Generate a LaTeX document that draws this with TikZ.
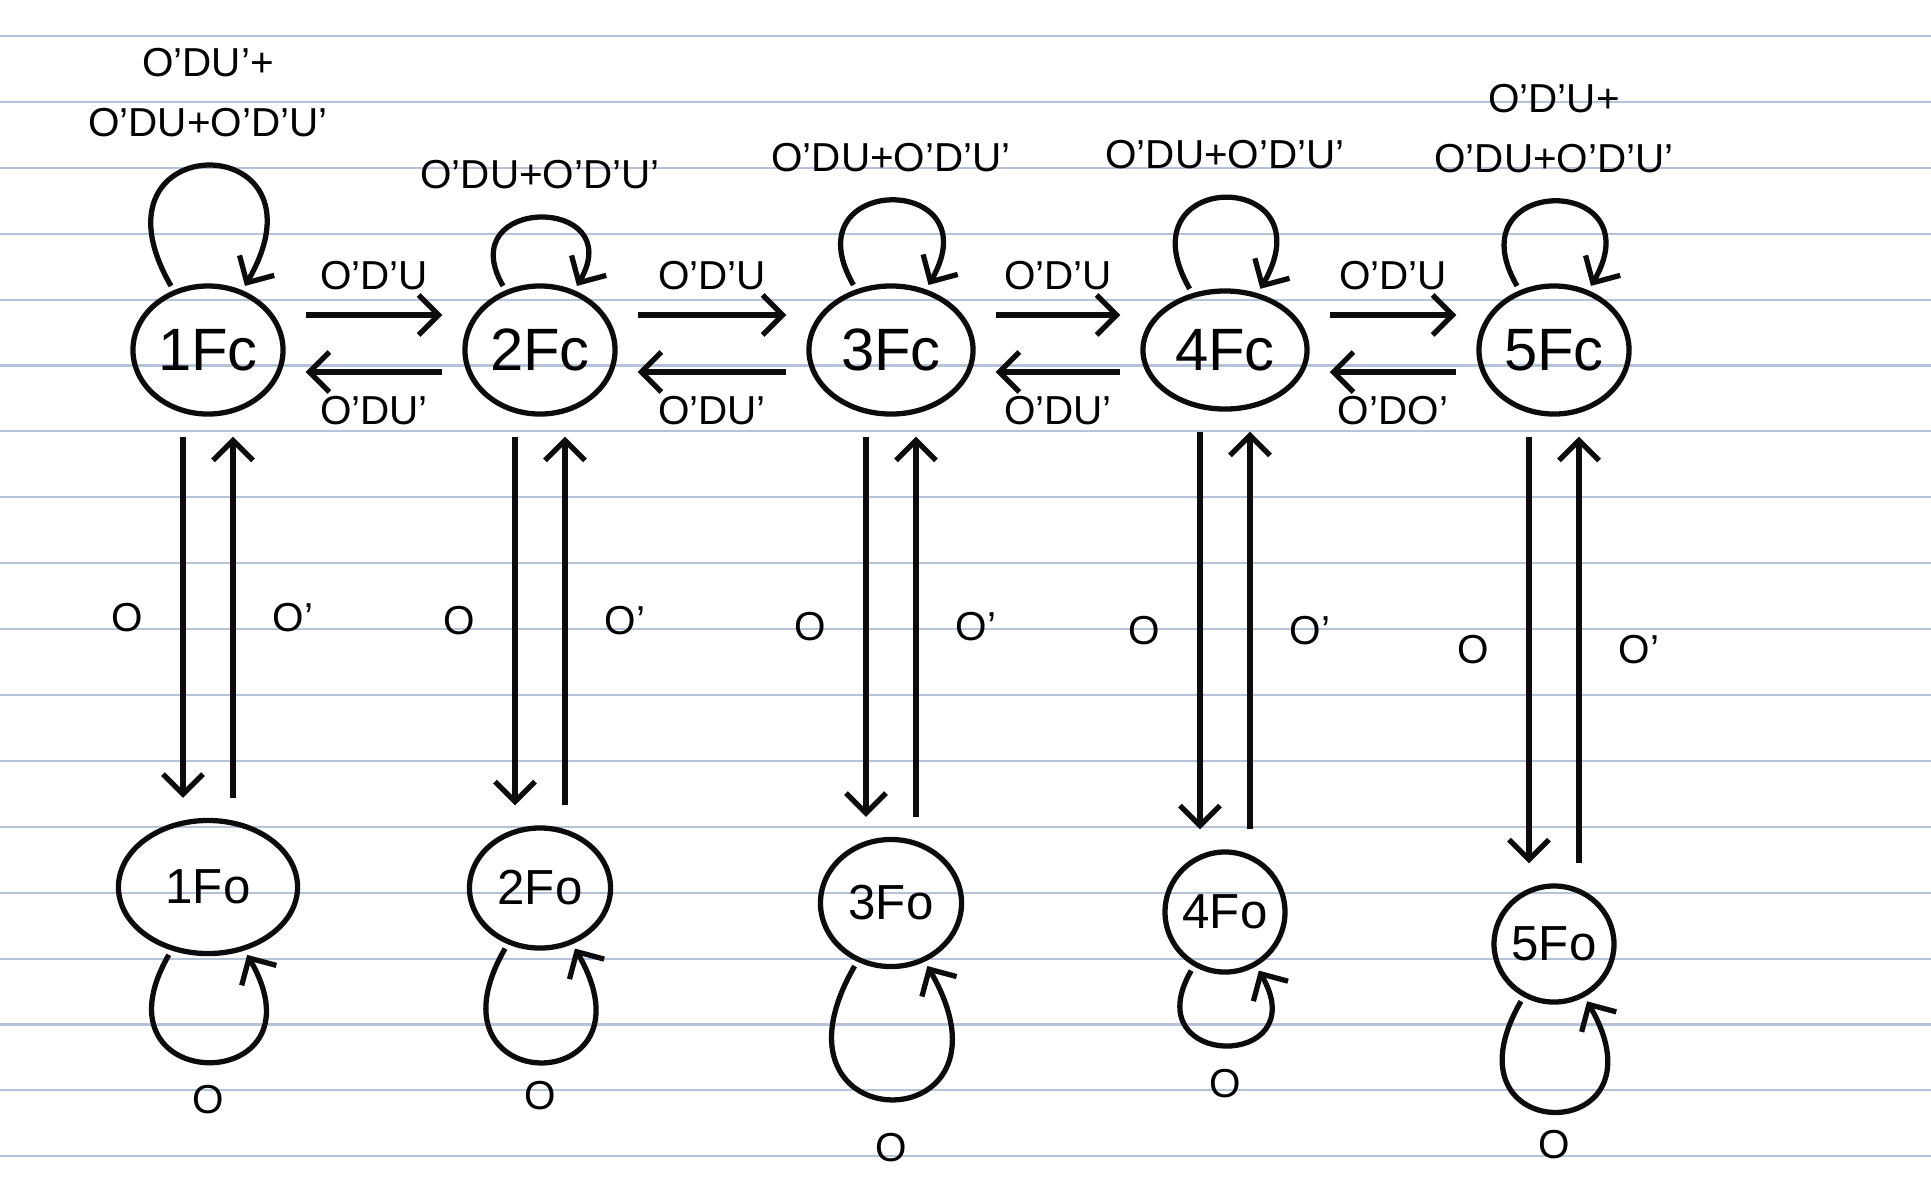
\documentclass[tikz,border=0pt]{standalone}
\usepackage{fontspec}
\setmainfont{Liberation Sans}
\usetikzlibrary{arrows.meta,shapes.geometric}
\definecolor{ruleblue}{RGB}{180,195,218}
\definecolor{inkblack}{RGB}{12,12,12}

\begin{document}
\begin{tikzpicture}[
    x=0.01cm, y=-0.01cm,
    font=\fontsize{11.5}{17}\selectfont,
    state/.style={
        ellipse,
        draw=inkblack,
        line width=1.5pt,
        minimum width=15mm,
        minimum height=12.8mm,
        inner sep=0pt,
        font=\fontsize{17}{20}\selectfont
    },
    openstate/.style={
        state,
        font=\fontsize{14}{16}\selectfont
    },
    arrow/.style={-{Straight Barb[length=2mm,width=4mm]}, line width=1.5pt, draw=inkblack,
        shorten >=2mm, shorten <=2mm},
    selfloop/.style={arrow, looseness=1, shorten >=0.5mm, shorten <=0.5mm},
    label/.style={inner sep=2pt, align=center},
    ruled/.style={draw=ruleblue, line width=0.6pt}
]
\useasboundingbox (0,0) rectangle (1931,1202);

% Paper lines
\foreach \k in {0,...,17}
    \draw[ruled] (0,{36+65.9*\k}) -- (1931,{36+65.9*\k});

% Closed states
\node[state] (c1) at (208,350) {1Fc};
\node[state] (c2) at (540,350) {2Fc};
\node[state, minimum width=16.4mm] (c3) at (891,350) {3Fc};
\node[state, minimum width=16.4mm, minimum height=11.8mm] (c4) at (1225,350) {4Fc};
\node[state] (c5) at (1554,350) {5Fc};

% Open states
\node[openstate, minimum width=17.9mm, minimum height=13.3mm] (o1) at (208,887) {1Fo};
\node[openstate, minimum width=14.1mm, minimum height=12mm] (o2) at (540,888) {2Fo};
\node[openstate, minimum width=14.1mm, minimum height=12.7mm] (o3) at (891,903) {3Fo};
\node[openstate, minimum width=11.8mm, minimum height=12mm] (o4) at (1225,912) {4Fo};
\node[openstate, minimum width=11.7mm, minimum height=11.6mm] (o5) at (1554,944) {5Fo};

% Floor to floor
\draw[arrow] ([yshift=3.5mm]c1.east) -- node[label, above=1.5mm] {O'D'U} ([yshift=3.5mm]c2.west);
\draw[arrow] ([yshift=-2.2mm]c2.west) -- node[label, below=1.5mm] {O'DU'} ([yshift=-2.2mm]c1.east);
\draw[arrow] ([yshift=3.5mm]c2.east) -- node[label, above=1.5mm] {O'D'U} ([yshift=3.5mm]c3.west);
\draw[arrow] ([yshift=-2.2mm]c3.west) -- node[label, below=1.5mm] {O'DU'} ([yshift=-2.2mm]c2.east);
\draw[arrow] ([yshift=3.5mm]c3.east) -- node[label, above=1.5mm] {O'D'U} ([yshift=3.5mm]c4.west);
\draw[arrow] ([yshift=-2.2mm]c4.west) -- node[label, below=1.5mm] {O'DU'} ([yshift=-2.2mm]c3.east);
\draw[arrow] ([yshift=3.5mm]c4.east) -- node[label, above=1.5mm] {O'D'U} ([yshift=3.5mm]c5.west);
\draw[arrow] ([yshift=-2.2mm]c5.west) -- node[label, below=1.5mm] {O'DO'} ([yshift=-2.2mm]c4.east);

% Door open / close
\foreach \i in {1,...,5} {
    \draw[arrow] ([xshift=-2.5mm]c\i.south) -- node[label, left=3mm] {O} ([xshift=-2.5mm]o\i.north);
    \draw[arrow] ([xshift=2.5mm]o\i.north) -- node[label, right=3mm] {O'} ([xshift=2.5mm]c\i.south);
}

% Staying put
\draw[selfloop] (c1) to[out=120, in=60, min distance=19mm]
    node[label, above=2mm] {O'DU'+\\O'DU+O'D'U'} (c1);
\draw[selfloop] (c2) to[out=120, in=60, min distance=11mm]
    node[label, above=2mm] {O'DU+O'D'U'} (c2);
\draw[selfloop] (c3) to[out=120, in=60, min distance=13.5mm]
    node[label, above=2mm] {O'DU+O'D'U'} (c3);
\draw[selfloop] (c4) to[out=120, in=60, min distance=14.5mm]
    node[label, above=2mm] {O'DU+O'D'U'} (c4);
\draw[selfloop] (c5) to[out=120, in=60, min distance=13.5mm]
    node[label, above=2mm] {O'D'U+\\O'DU+O'D'U'} (c5);

\draw[selfloop] (o1) to[out=240, in=300, min distance=17mm] node[label, below=1.5mm] {O} (o1);
\draw[selfloop] (o2) to[out=240, in=300, min distance=18mm] node[label, below=1mm] {O} (o2);
\draw[selfloop] (o3) to[out=240, in=300, min distance=21mm] node[label, below=2.5mm] {O} (o3);
\draw[selfloop] (o4) to[out=240, in=300, min distance=12mm] node[label, below=1.5mm] {O} (o4);
\draw[selfloop] (o5) to[out=240, in=300, min distance=17.5mm] node[label, below=1mm] {O} (o5);

\end{tikzpicture}
\end{document}
